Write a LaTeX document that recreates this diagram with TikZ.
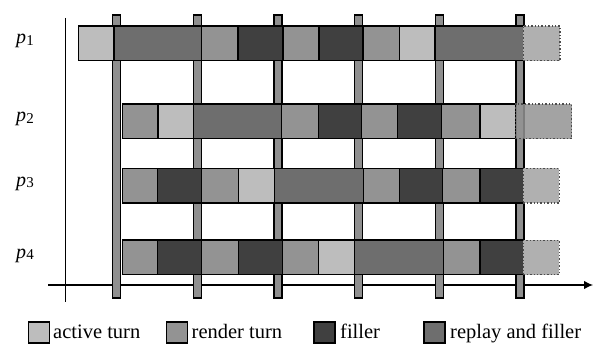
\documentclass[tikz,border=0pt]{standalone}
\usepackage{fontspec}
\setmainfont{Liberation Serif}
\usetikzlibrary{arrows.meta}
\definecolor{cA}{HTML}{BDBDBD}
\definecolor{cN}{HTML}{939393}
\definecolor{cF}{HTML}{404040}
\definecolor{cR}{HTML}{6E6E6E}
\definecolor{cL}{HTML}{B0B0B0}
\definecolor{cP}{HTML}{8F8F8F}
\begin{document}
\begin{tikzpicture}[x=1pt,y=-1pt,
  cell/.style={draw=black, line width=1.5pt, inner sep=0pt, outer sep=0pt, minimum height=34.5pt},
  ghost/.style={draw=black!70, dotted, line width=1.4pt, inner sep=0pt, outer sep=0pt, minimum height=34.5pt},
  pillar/.style={draw=black, fill=cP, line width=1.2pt, inner sep=0pt, outer sep=0pt, minimum width=8pt, minimum height=283pt},
  axis/.style={line width=1.2pt},
  plabel/.style={font=\fontsize{20}{22}\selectfont, inner sep=0pt},
  legbox/.style={draw=black, line width=1.5pt, inner sep=0pt, minimum width=21pt, minimum height=21pt},
  legtext/.style={font=\fontsize{20.5}{22}\selectfont, anchor=base west, inner sep=0pt}]
\useasboundingbox (0,0) rectangle (594,344);
% axes
\coordinate (yaxtop) at (65.5,18);
\coordinate (yaxbot) at (65.5,302);
\coordinate (xaxl) at (48,285);
\coordinate (xaxr) at (593,285);
\draw[axis] (yaxtop) -- (yaxbot);
\draw[axis,-{Latex[length=9pt,width=8.5pt]}] (xaxl) -- (xaxr);
% pillars
\foreach \x [count=\i] in {116.8,197.5,278,358.5,439.5,520}
  \node[pillar] (pil\i) at (\x,156.5) {};
% rows
\foreach \row/\yc/\cells in {
  1/43.35/{78.3/114/cA,114/201.7/cR,201.7/238/cN,238/283/cF,283/319/cN,319/363/cF,363/399.3/cN,399.3/435/cA,435/523.3/cR},
  2/121.3/{122.7/158/cN,158/193.3/cA,193.3/281.7/cR,281.7/318.3/cN,318.3/361.7/cF,361.7/397.3/cN,397.3/441.7/cF,441.7/480/cN,480/515.7/cA},
  3/185.7/{122.7/157.7/cN,157.7/201.7/cF,201.7/238.3/cN,238.3/274.3/cA,274.3/363.3/cR,363.3/399.3/cN,399.3/442.3/cF,442.3/480/cN,480/523.3/cF},
  4/257.5/{122.7/157.7/cN,157.7/201.7/cF,201.7/238.3/cN,238.3/282.3/cF,282.3/318.3/cN,318.3/354.3/cA,354.3/443.3/cR,443.3/480/cN,480/523.3/cF}}
{
  \foreach \xa/\xb/\col [count=\k] in \cells {
    \pgfmathsetmacro{\w}{\xb-\xa}
    \node[cell, fill=\col, minimum width=\w pt, anchor=west] (r\row c\k) at (\xa,\yc) {};
  }
}
% ghost (dotted) cells
\node[ghost, fill=cL, minimum width=36.7pt, anchor=west] (g1) at (523.3,43.35) {};
\node[ghost, fill=cN, fill opacity=0.85, minimum width=56pt, anchor=west] (g2) at (515.7,121.3) {};
\node[ghost, fill=cL, minimum width=36pt, anchor=west] (g3) at (523.3,185.7) {};
\node[ghost, fill=cL, minimum width=36pt, anchor=west] (g4) at (523.3,257.5) {};
% row labels
\node[plabel] (lp1) at (25,41) {\textit{p}\raisebox{-0.2ex}{\fontsize{15}{16}\selectfont 1}};
\node[plabel] (lp2) at (25,119) {\textit{p}\raisebox{-0.2ex}{\fontsize{15}{16}\selectfont 2}};
\node[plabel] (lp3) at (25,183.5) {\textit{p}\raisebox{-0.2ex}{\fontsize{15}{16}\selectfont 3}};
\node[plabel] (lp4) at (25,255.5) {\textit{p}\raisebox{-0.2ex}{\fontsize{15}{16}\selectfont 4}};
% legend
\node[legbox, fill=cA] (lb1) at (39.2,332.7) {};
\node[legtext] (lt1) at (53,338.5) {active turn};
\node[legbox, fill=cN] (lb2) at (176.8,332.7) {};
\node[legtext] (lt2) at (191.5,338.5) {render turn};
\node[legbox, fill=cF] (lb3) at (324.3,332.7) {};
\node[legtext] (lt3) at (340,338.5) {filler};
\node[legbox, fill=cR] (lb4) at (434.3,332.7) {};
\node[legtext] (lt4) at (450,338.5) {replay and filler};
\end{tikzpicture}
\end{document}
